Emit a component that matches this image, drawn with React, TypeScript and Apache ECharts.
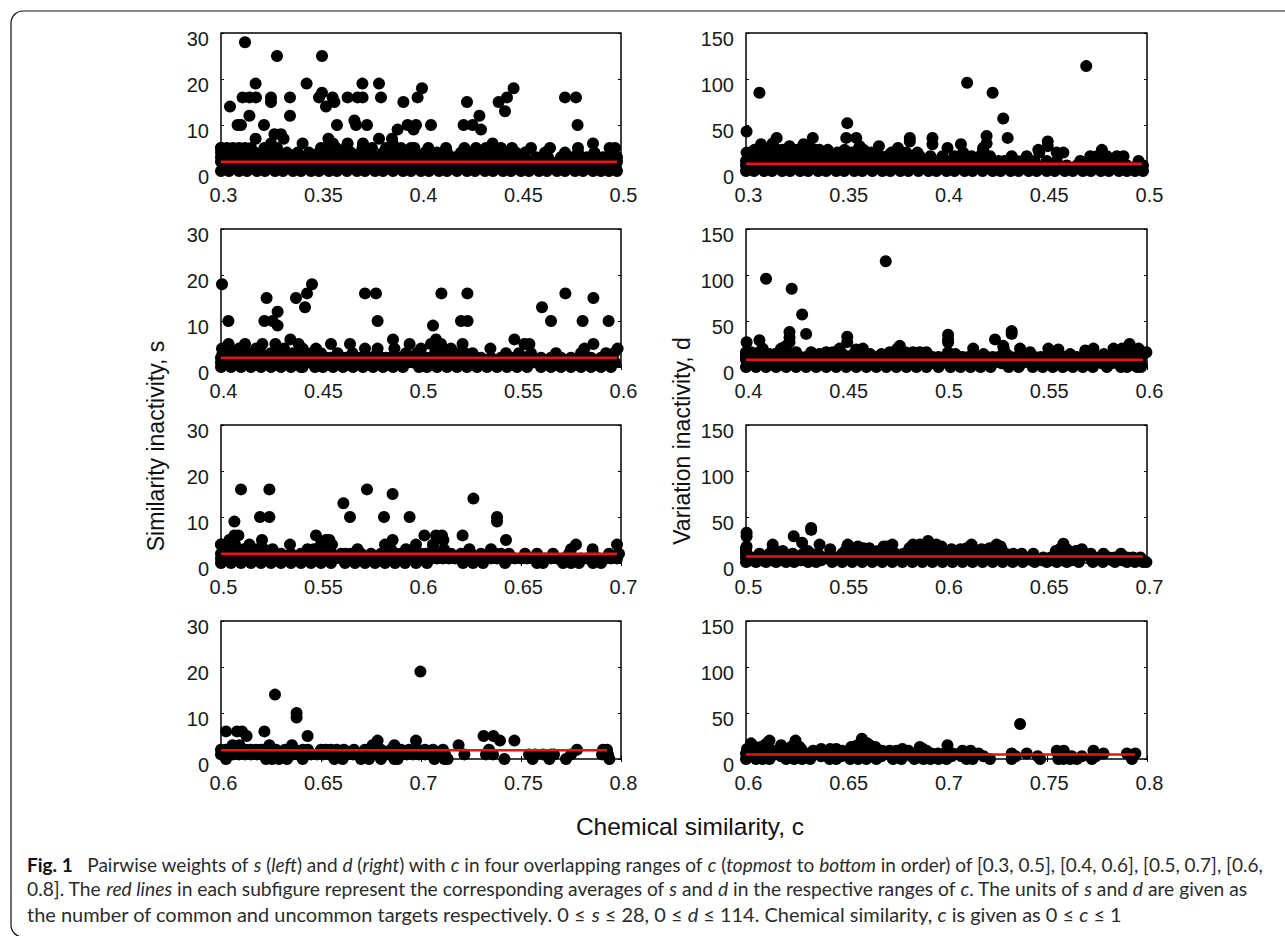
import React, { useEffect, useRef } from "react";
import * as echarts from "echarts";

type Row = [number, number[]];

// Similarity inactivity s, c in [0.3, 0.5]
const s1: Row[] = [
  [28, [0.312]],
  [25, [0.328, 0.3505]],
  [19, [0.3173, 0.3428, 0.3707, 0.379]],
  [18, [0.4005, 0.4463]],
  [17, [0.3505]],
  [16, [0.3108, 0.3142, 0.3175, 0.325, 0.3345, 0.349, 0.3558, 0.3633, 0.3683, 0.3708, 0.38, 0.3983, 0.443, 0.472, 0.4775]],
  [15, [0.325, 0.3567, 0.3912, 0.423, 0.4388]],
  [14, [0.3045, 0.3525]],
  [13, [0.442]],
  [12, [0.3142, 0.3345, 0.4292]],
  [11, [0.3667]],
  [10, [0.3083, 0.31, 0.3215, 0.358, 0.3675, 0.373, 0.3933, 0.3975, 0.405, 0.4213, 0.4258, 0.4783]],
  [9, [0.3883, 0.3963, 0.43]],
  [8, [0.3267, 0.33]],
  [7, [0.3173, 0.3313, 0.3537, 0.379, 0.3855]],
  [6, [0.3408, 0.325, 0.3633, 0.356, 0.371, 0.3858, 0.4358, 0.486]],
  [5, [0.3, 0.303, 0.306, 0.309, 0.312, 0.3, 0.315, 0.3217, 0.3233, 0.328, 0.35, 0.3525, 0.3575, 0.3625, 0.3708, 0.3755, 0.3825, 0.39, 0.395, 0.3967, 0.4037, 0.4125, 0.4217, 0.4275, 0.4325, 0.44, 0.4455, 0.455, 0.4645, 0.4785, 0.4943, 0.497]],
  [4, [0.3, 0.304, 0.308, 0.312, 0.317, 0.323, 0.328, 0.333, 0.3383, 0.344, 0.349, 0.354, 0.359, 0.365, 0.37, 0.375, 0.381, 0.387, 0.392, 0.397, 0.402, 0.408, 0.413, 0.42, 0.426, 0.431, 0.437, 0.443, 0.4475, 0.452, 0.462, 0.472, 0.4785, 0.4867, 0.495]],
  [3, [0.3, 0.303, 0.306, 0.309, 0.312, 0.315, 0.318, 0.321, 0.324, 0.327, 0.33, 0.333, 0.336, 0.339, 0.342, 0.345, 0.348, 0.351, 0.354, 0.357, 0.36, 0.363, 0.366, 0.369, 0.372, 0.375, 0.378, 0.381, 0.384, 0.387, 0.39, 0.393, 0.396, 0.399, 0.402, 0.405, 0.408, 0.411, 0.414, 0.417, 0.42, 0.423, 0.426, 0.429, 0.432, 0.435, 0.438, 0.441, 0.444, 0.447, 0.45, 0.4575, 0.4635, 0.47, 0.476, 0.483, 0.491, 0.498]],
  [2, [0.3, 0.305, 0.31, 0.315, 0.32, 0.325, 0.33, 0.335, 0.34, 0.345, 0.35, 0.355, 0.36, 0.365, 0.37, 0.375, 0.38, 0.385, 0.39, 0.395, 0.4, 0.405, 0.41, 0.415, 0.42, 0.425, 0.43, 0.435, 0.44, 0.445, 0.45, 0.455, 0.46, 0.465, 0.47, 0.475, 0.48, 0.485, 0.49, 0.495, 0.498]],
  [1, [0.3025, 0.3075, 0.3125, 0.3175, 0.3225, 0.3275, 0.3325, 0.3375, 0.3425, 0.3475, 0.3525, 0.3575, 0.3625, 0.3675, 0.3725, 0.3775, 0.3825, 0.3875, 0.3925, 0.3975, 0.4025, 0.4075, 0.4125, 0.4175, 0.4225, 0.4275, 0.4325, 0.4375, 0.4425, 0.4475, 0.4525, 0.4575, 0.4625, 0.4675, 0.4725, 0.4775, 0.4825, 0.4875, 0.4925, 0.497]],
  [0, [0.3, 0.304, 0.309, 0.313, 0.318, 0.322, 0.327, 0.331, 0.336, 0.34, 0.345, 0.349, 0.354, 0.358, 0.363, 0.368, 0.372, 0.377, 0.381, 0.386, 0.391, 0.395, 0.4, 0.404, 0.409, 0.413, 0.418, 0.423, 0.427, 0.432, 0.436, 0.441, 0.445, 0.45, 0.454, 0.459, 0.463, 0.468, 0.472, 0.477, 0.481, 0.486, 0.49, 0.494, 0.498]],
];

// Similarity inactivity s, c in [0.4, 0.6]
const s2: Row[] = [
  [18, [0.4005, 0.4455]],
  [16, [0.443, 0.472, 0.4775, 0.5102, 0.5232, 0.5722]],
  [15, [0.4228, 0.4375, 0.5862]],
  [13, [0.442, 0.5605]],
  [12, [0.4283]],
  [10, [0.4037, 0.4217, 0.4258, 0.4783, 0.52, 0.5233, 0.565, 0.5808, 0.5938]],
  [9, [0.4283, 0.506]],
  [6, [0.4347, 0.486, 0.5075, 0.5467]],
  [5, [0.4038, 0.412, 0.4207, 0.4272, 0.4388, 0.455, 0.4645, 0.4943, 0.505, 0.51, 0.5208, 0.5517, 0.5542, 0.5862]],
  [4, [0.4005, 0.409, 0.4175, 0.4408, 0.4475, 0.472, 0.4783, 0.4867, 0.5, 0.515, 0.5347, 0.5817, 0.5983, 0.4315, 0.5085]],
  [3, [0.4008, 0.406, 0.414, 0.42, 0.43, 0.436, 0.445, 0.45, 0.4583, 0.4658, 0.478, 0.4925, 0.498, 0.507, 0.5125, 0.5258, 0.5425, 0.549, 0.555, 0.5675, 0.58, 0.5925, 0.5965, 0.4115, 0.425, 0.441, 0.5175, 0.522]],
  [2, [0.4, 0.4025, 0.405, 0.4075, 0.41, 0.4125, 0.415, 0.4175, 0.42, 0.4225, 0.425, 0.4275, 0.43, 0.4325, 0.435, 0.4375, 0.44, 0.4425, 0.445, 0.4475, 0.45, 0.4525, 0.455, 0.4575, 0.46, 0.4625, 0.465, 0.4675, 0.47, 0.4725, 0.475, 0.4775, 0.48, 0.4825, 0.485, 0.49, 0.495, 0.4975, 0.5, 0.5025, 0.505, 0.5075, 0.51, 0.5125, 0.515, 0.5175, 0.52, 0.5225, 0.525, 0.53, 0.535, 0.54, 0.545, 0.5475, 0.55, 0.5525, 0.555, 0.56, 0.565, 0.57, 0.575, 0.58, 0.585, 0.59, 0.595]],
  [1, [0.4, 0.403, 0.406, 0.409, 0.412, 0.415, 0.418, 0.421, 0.424, 0.427, 0.43, 0.433, 0.436, 0.439, 0.442, 0.445, 0.448, 0.451, 0.454, 0.457, 0.46, 0.463, 0.466, 0.469, 0.472, 0.475, 0.478, 0.481, 0.484, 0.487, 0.49, 0.493, 0.496, 0.499, 0.502, 0.505, 0.508, 0.511, 0.514, 0.517, 0.52, 0.523, 0.526, 0.529, 0.532, 0.535, 0.538, 0.541, 0.544, 0.547, 0.55, 0.553, 0.556, 0.559, 0.562, 0.565, 0.568, 0.571, 0.574, 0.577, 0.58, 0.583, 0.586, 0.589, 0.592, 0.595, 0.597]],
  [0, [0.4, 0.405, 0.41, 0.415, 0.42, 0.425, 0.43, 0.435, 0.44, 0.4408, 0.447, 0.451, 0.456, 0.461, 0.466, 0.471, 0.476, 0.481, 0.486, 0.491, 0.499, 0.503, 0.508, 0.513, 0.518, 0.523, 0.528, 0.533, 0.538, 0.543, 0.548, 0.553, 0.56, 0.565, 0.57, 0.575, 0.58, 0.585, 0.59, 0.595]],
];

// Similarity inactivity s, c in [0.5, 0.7]
const s3: Row[] = [
  [16, [0.51, 0.5242, 0.573]],
  [15, [0.5858]],
  [14, [0.6262]],
  [13, [0.5612]],
  [10, [0.5195, 0.5242, 0.5645, 0.5815, 0.5943, 0.638]],
  [9, [0.5067, 0.638]],
  [6, [0.5067, 0.5087, 0.5475, 0.6017, 0.6075, 0.6105, 0.6208]],
  [5, [0.5042, 0.5205, 0.5525, 0.5542, 0.5858, 0.6112, 0.6425]],
  [4, [0.5, 0.5, 0.507, 0.5142, 0.5345, 0.55, 0.5555, 0.582, 0.5975, 0.606, 0.6775, 0.698]],
  [3, [0.508, 0.514, 0.5258, 0.5433, 0.55, 0.5545, 0.5683, 0.585, 0.5965, 0.606, 0.6242, 0.635, 0.675, 0.6858, 0.5045, 0.5115, 0.518, 0.5215, 0.5465, 0.5925, 0.6115]],
  [2, [0.5, 0.5025, 0.505, 0.5075, 0.51, 0.5125, 0.515, 0.5175, 0.52, 0.5225, 0.525, 0.53, 0.535, 0.54, 0.545, 0.5475, 0.55, 0.5525, 0.555, 0.56, 0.5625, 0.565, 0.5675, 0.57, 0.575, 0.58, 0.5825, 0.585, 0.5875, 0.59, 0.595, 0.5975, 0.6, 0.6025, 0.605, 0.6075, 0.61, 0.6125, 0.615, 0.62, 0.6225, 0.625, 0.63, 0.635, 0.6375, 0.64, 0.644, 0.652, 0.658, 0.666, 0.674, 0.686, 0.694, 0.699]],
  [1, [0.5, 0.503, 0.506, 0.509, 0.512, 0.515, 0.518, 0.521, 0.524, 0.527, 0.53, 0.533, 0.536, 0.539, 0.542, 0.545, 0.548, 0.551, 0.554, 0.557, 0.56, 0.563, 0.566, 0.569, 0.572, 0.575, 0.578, 0.581, 0.584, 0.587, 0.59, 0.593, 0.596, 0.599, 0.602, 0.605, 0.608, 0.611, 0.614, 0.617, 0.62, 0.623, 0.626, 0.629, 0.632, 0.635, 0.638, 0.641, 0.644, 0.647, 0.65, 0.653, 0.656, 0.659, 0.662, 0.665, 0.668, 0.671, 0.674, 0.677, 0.68, 0.683, 0.686, 0.689, 0.692, 0.695, 0.698]],
  [0, [0.5, 0.505, 0.51, 0.515, 0.52, 0.525, 0.53, 0.535, 0.54, 0.545, 0.55, 0.555, 0.562, 0.567, 0.572, 0.577, 0.582, 0.587, 0.592, 0.5975, 0.603, 0.621, 0.626, 0.631, 0.642, 0.658, 0.661, 0.671, 0.675, 0.679, 0.686, 0.69]],
];

// Similarity inactivity s, c in [0.6, 0.8]
const s4: Row[] = [
  [19, [0.6997]],
  [14, [0.627]],
  [10, [0.6378]],
  [9, [0.6378]],
  [6, [0.6025, 0.608, 0.6105, 0.6217]],
  [5, [0.6128, 0.6433, 0.7313, 0.7362]],
  [4, [0.6975, 0.7395, 0.7467, 0.6783]],
  [3, [0.6058, 0.6092, 0.6242, 0.6355, 0.6758, 0.6867, 0.7188]],
  [2, [0.6, 0.6025, 0.605, 0.6075, 0.61, 0.6125, 0.615, 0.6175, 0.62, 0.622, 0.625, 0.6275, 0.632, 0.635, 0.637, 0.641, 0.6435, 0.65, 0.6525, 0.655, 0.658, 0.6615, 0.6665, 0.672, 0.6755, 0.68, 0.685, 0.69, 0.694, 0.6985, 0.702, 0.706, 0.711, 0.734, 0.778, 0.791, 0.793]],
  [1, [0.6, 0.603, 0.606, 0.609, 0.612, 0.615, 0.618, 0.621, 0.624, 0.627, 0.63, 0.633, 0.636, 0.639, 0.642, 0.645, 0.648, 0.651, 0.654, 0.657, 0.66, 0.663, 0.666, 0.669, 0.672, 0.675, 0.678, 0.681, 0.684, 0.687, 0.69, 0.693, 0.696, 0.699, 0.702, 0.705, 0.708, 0.712, 0.7217, 0.7325, 0.736, 0.754, 0.757, 0.761, 0.765, 0.7665, 0.775, 0.7905, 0.7935]],
  [0, [0.6025, 0.6225, 0.6255, 0.629, 0.633, 0.6408, 0.6567, 0.6608, 0.67, 0.674, 0.68, 0.6867, 0.6883, 0.7067, 0.7117, 0.7133, 0.7417, 0.7558, 0.7642, 0.7725, 0.7942]],
];

// Variation inactivity d, c in [0.3, 0.5]
const d1: Row[] = [
  [114, [0.4697]],
  [96, [0.4103]],
  [85, [0.3067, 0.423]],
  [57, [0.4283]],
  [52, [0.3505]],
  [43, [0.3003]],
  [38, [0.42]],
  [36, [0.3153, 0.3333, 0.35, 0.355, 0.3817, 0.393, 0.4305]],
  [32, [0.3817, 0.4505]],
  [30, [0.42, 0.3133]],
  [29, [0.3075, 0.3287, 0.4072, 0.393]],
  [27, [0.3217, 0.3663, 0.4505, 0.3317, 0.3567]],
  [25, [0.3758, 0.4005, 0.4183]],
  [23, [0.3042, 0.3408, 0.3492, 0.3558, 0.4183, 0.3092, 0.4458, 0.4775, 0.3125, 0.3158, 0.3183, 0.3255, 0.3283, 0.3345, 0.3367, 0.3587]],
  [20, [0.3003, 0.3045, 0.308, 0.3125, 0.3183, 0.324, 0.33, 0.334, 0.338, 0.3455, 0.3525, 0.3625, 0.3725, 0.38, 0.3855, 0.4083, 0.4183, 0.455, 0.4583, 0.4463]],
  [16, [0.301, 0.3045, 0.308, 0.3115, 0.315, 0.3185, 0.322, 0.325, 0.328, 0.3315, 0.335, 0.3385, 0.342, 0.3475, 0.353, 0.3565, 0.36, 0.3635, 0.367, 0.3705, 0.374, 0.378, 0.3825, 0.3867, 0.392, 0.398, 0.404, 0.4125, 0.4167, 0.4217, 0.4325, 0.44, 0.4717, 0.475, 0.48, 0.485, 0.4883]],
  [11, [0.3, 0.303, 0.306, 0.309, 0.312, 0.315, 0.318, 0.321, 0.324, 0.327, 0.33, 0.333, 0.336, 0.339, 0.342, 0.345, 0.348, 0.351, 0.354, 0.357, 0.36, 0.363, 0.366, 0.369, 0.372, 0.375, 0.378, 0.381, 0.384, 0.387, 0.39, 0.393, 0.396, 0.399, 0.402, 0.405, 0.408, 0.411, 0.414, 0.417, 0.42, 0.423, 0.426, 0.429, 0.432, 0.435, 0.438, 0.441, 0.444, 0.45, 0.455, 0.4667, 0.4717, 0.477, 0.484, 0.4958]],
  [6, [0.3, 0.305, 0.31, 0.315, 0.32, 0.325, 0.33, 0.335, 0.34, 0.345, 0.35, 0.355, 0.36, 0.365, 0.37, 0.375, 0.38, 0.385, 0.39, 0.395, 0.4, 0.405, 0.41, 0.415, 0.42, 0.425, 0.43, 0.435, 0.44, 0.445, 0.45, 0.455, 0.46, 0.465, 0.47, 0.475, 0.48, 0.485, 0.49, 0.495, 0.498]],
  [3, [0.3025, 0.3075, 0.3125, 0.3175, 0.3225, 0.3275, 0.3325, 0.3375, 0.3425, 0.3475, 0.3525, 0.3575, 0.3625, 0.3675, 0.3725, 0.3775, 0.3825, 0.3875, 0.3925, 0.3975, 0.4025, 0.4075, 0.4125, 0.4175, 0.4225, 0.4275, 0.4325, 0.4375, 0.4425, 0.4475, 0.4525, 0.4575, 0.4625, 0.4675, 0.4725, 0.4775, 0.4825, 0.4875, 0.4925, 0.497]],
  [0, [0.3, 0.304, 0.309, 0.313, 0.318, 0.322, 0.327, 0.331, 0.336, 0.34, 0.345, 0.349, 0.354, 0.358, 0.363, 0.368, 0.372, 0.377, 0.381, 0.386, 0.391, 0.395, 0.4, 0.404, 0.409, 0.413, 0.418, 0.423, 0.427, 0.432, 0.436, 0.441, 0.445, 0.45, 0.454, 0.459, 0.463, 0.468, 0.472, 0.477, 0.481, 0.486, 0.49, 0.494, 0.498]],
];

// Variation inactivity d, c in [0.4, 0.6]
const d2: Row[] = [
  [115, [0.4697]],
  [96, [0.41]],
  [85, [0.4228]],
  [57, [0.428]],
  [39, [0.5325]],
  [38, [0.4217]],
  [36, [0.43, 0.5325]],
  [35, [0.5008]],
  [33, [0.4505]],
  [32, [0.4217]],
  [30, [0.5008, 0.5242]],
  [29, [0.4067]],
  [27, [0.4003, 0.4217, 0.4505, 0.5008]],
  [25, [0.5913]],
  [23, [0.42, 0.4767, 0.5283]],
  [20, [0.4083, 0.4467, 0.4583, 0.5133, 0.5367, 0.5508, 0.5733, 0.5833, 0.5875, 0.5958, 0.4175, 0.4755, 0.5285]],
  [19, [0.455, 0.5558]],
  [18, [0.5692, 0.4767]],
  [16, [0.4, 0.4025, 0.4167, 0.42, 0.425, 0.4325, 0.44, 0.4433, 0.4717, 0.4755, 0.4795, 0.4833, 0.4867, 0.49, 0.5008, 0.5417, 0.5975, 0.5997, 0.4065, 0.5845, 0.589, 0.5935]],
  [14, [0.4, 0.405, 0.4117, 0.4233, 0.4483, 0.462, 0.5185, 0.5508, 0.5617, 0.53, 0.4145, 0.4185, 0.4365, 0.4535, 0.4675, 0.5045, 0.5535, 0.5695, 0.5735, 0.5785, 0.5865]],
  [11, [0.4, 0.403, 0.406, 0.409, 0.412, 0.415, 0.418, 0.421, 0.424, 0.427, 0.43, 0.433, 0.436, 0.439, 0.442, 0.445, 0.448, 0.451, 0.454, 0.457, 0.46, 0.463, 0.466, 0.469, 0.472, 0.475, 0.478, 0.481, 0.484, 0.487, 0.49, 0.493, 0.496, 0.499, 0.502, 0.505, 0.508, 0.511, 0.514, 0.517, 0.52, 0.523, 0.526, 0.529, 0.532, 0.535, 0.538, 0.541, 0.544, 0.547, 0.55, 0.553, 0.556, 0.559, 0.562, 0.565, 0.568, 0.571, 0.574, 0.577, 0.58, 0.583, 0.586, 0.589, 0.592, 0.595, 0.597]],
  [8, [0.4, 0.405, 0.41, 0.415, 0.42, 0.425, 0.43, 0.435, 0.44, 0.445, 0.45, 0.455, 0.46, 0.465, 0.47, 0.475, 0.48, 0.485, 0.49, 0.495, 0.5, 0.505, 0.51, 0.515, 0.52, 0.525, 0.53, 0.535, 0.54, 0.545, 0.55, 0.555, 0.56, 0.565, 0.57, 0.575, 0.58, 0.585, 0.59, 0.595]],
  [4, [0.4025, 0.4075, 0.4125, 0.4175, 0.4225, 0.4275, 0.4325, 0.4375, 0.4425, 0.4475, 0.4525, 0.4575, 0.4625, 0.4675, 0.4725, 0.4775, 0.4825, 0.4875, 0.4925, 0.4975, 0.5025, 0.5075, 0.5125, 0.5175, 0.5225, 0.5275, 0.5325, 0.5375, 0.5425, 0.5475, 0.5525, 0.5575, 0.5625, 0.5675, 0.5725, 0.5775, 0.5825, 0.5875, 0.5925, 0.597]],
  [0, [0.4, 0.405, 0.41, 0.415, 0.42, 0.425, 0.43, 0.435, 0.44, 0.445, 0.45, 0.455, 0.46, 0.465, 0.47, 0.475, 0.48, 0.485, 0.49, 0.496, 0.502, 0.507, 0.512, 0.517, 0.522, 0.531, 0.536, 0.543, 0.548, 0.553, 0.558, 0.563, 0.568, 0.573, 0.58, 0.587, 0.59, 0.595, 0.597]],
];

// Variation inactivity d, c in [0.5, 0.7]
const d3: Row[] = [
  [38, [0.5325]],
  [36, [0.5325]],
  [33, [0.5003]],
  [29, [0.5238, 0.5003]],
  [24, [0.5908]],
  [22, [0.528]],
  [21, [0.6583]],
  [20, [0.5133, 0.5367, 0.5508, 0.573, 0.5833, 0.5867, 0.595, 0.6125, 0.625]],
  [18, [0.5558, 0.5687, 0.5003, 0.5505, 0.5705, 0.591, 0.5975, 0.627]],
  [16, [0.61, 0.6583, 0.5, 0.5135, 0.5525, 0.5585, 0.5615, 0.5815, 0.585, 0.589, 0.5935, 0.6215]],
  [15, [0.542, 0.6025, 0.6175, 0.5592, 0.6675, 0.607, 0.6275, 0.6565, 0.66]],
  [13, [0.5658, 0.5183, 0.5, 0.5308, 0.6645, 0.605, 0.5495, 0.5725, 0.5885, 0.5985, 0.623, 0.6545]],
  [10, [0.5117, 0.5067, 0.5233, 0.536, 0.548, 0.557, 0.5745, 0.581, 0.591, 0.6, 0.6333, 0.6375, 0.6433, 0.6783, 0.6633, 0.687, 0.625, 0.5, 0.5155, 0.5195, 0.5285, 0.5325, 0.5525, 0.562, 0.5665, 0.5705, 0.5785, 0.5865, 0.595, 0.605, 0.6095, 0.6145, 0.62, 0.6295, 0.672, 0.6595, 0.655]],
  [6, [0.5, 0.503, 0.506, 0.509, 0.512, 0.515, 0.518, 0.521, 0.524, 0.527, 0.53, 0.533, 0.536, 0.539, 0.542, 0.545, 0.548, 0.551, 0.554, 0.557, 0.56, 0.563, 0.566, 0.569, 0.572, 0.575, 0.578, 0.581, 0.584, 0.587, 0.59, 0.593, 0.596, 0.599, 0.602, 0.605, 0.608, 0.611, 0.614, 0.617, 0.62, 0.623, 0.626, 0.629, 0.632, 0.635, 0.638, 0.641, 0.644, 0.6483, 0.652, 0.655, 0.658, 0.661, 0.664, 0.667, 0.672, 0.676, 0.678, 0.681, 0.684, 0.687, 0.69, 0.693, 0.6967]],
  [3, [0.5025, 0.5075, 0.5125, 0.5175, 0.5225, 0.5275, 0.5325, 0.5375, 0.5425, 0.5475, 0.5525, 0.5575, 0.5625, 0.5675, 0.5725, 0.5775, 0.5825, 0.5875, 0.5925, 0.5975, 0.6025, 0.6075, 0.6125, 0.6175, 0.6225, 0.6275, 0.6325, 0.6375, 0.6425, 0.6475, 0.6525, 0.6575, 0.6625, 0.6655, 0.6725, 0.6775, 0.6825, 0.6875, 0.6925, 0.6975]],
  [1, [0.5, 0.505, 0.51, 0.515, 0.52, 0.524, 0.531, 0.535, 0.543, 0.548, 0.553, 0.558, 0.563, 0.568, 0.573, 0.578, 0.583, 0.588, 0.593, 0.598, 0.603, 0.608, 0.613, 0.618, 0.623, 0.628, 0.633, 0.638, 0.644, 0.65, 0.655, 0.66, 0.666, 0.673, 0.678, 0.684, 0.69, 0.694, 0.698, 0.6997]],
];

// Variation inactivity d, c in [0.6, 0.8]
const d4: Row[] = [
  [38, [0.7367]],
  [22, [0.6578]],
  [20, [0.6117, 0.6247]],
  [17, [0.6578, 0.6025, 0.6605, 0.6105, 0.6245]],
  [15, [0.6025, 0.6092, 0.6175, 0.6555, 0.6617, 0.7005, 0.6247]],
  [13, [0.6867, 0.6025, 0.6267, 0.6045, 0.6075, 0.6225, 0.6525, 0.6635, 0.6645]],
  [11, [0.6375, 0.678, 0.6225, 0.6075, 0.6533, 0.6575, 0.6883, 0.6005, 0.6045, 0.6115, 0.6195, 0.6275, 0.642, 0.645, 0.662, 0.665]],
  [9, [0.6433, 0.708, 0.7733, 0.6717, 0.6065, 0.6145, 0.6235, 0.6265, 0.6335, 0.637, 0.6405, 0.648, 0.654, 0.66, 0.668, 0.675, 0.681, 0.69, 0.712, 0.755, 0.7585]],
  [6, [0.6, 0.603, 0.606, 0.609, 0.612, 0.615, 0.618, 0.621, 0.624, 0.627, 0.63, 0.633, 0.636, 0.639, 0.642, 0.645, 0.6483, 0.652, 0.655, 0.657, 0.66, 0.662, 0.665, 0.668, 0.6717, 0.676, 0.68, 0.6833, 0.686, 0.689, 0.6925, 0.6958, 0.699, 0.703, 0.7065, 0.7125, 0.716, 0.7325, 0.74, 0.7583, 0.7555, 0.7783, 0.7942, 0.79]],
  [3, [0.6025, 0.6075, 0.6125, 0.6175, 0.6225, 0.6275, 0.6325, 0.6375, 0.6425, 0.6475, 0.6525, 0.6575, 0.6625, 0.6675, 0.6725, 0.6775, 0.6825, 0.6875, 0.6925, 0.6975, 0.7025, 0.7075, 0.7125, 0.7185, 0.7345, 0.7455, 0.7565, 0.7625, 0.7675, 0.7745, 0.7925]],
  [0, [0.6, 0.605, 0.6083, 0.6117, 0.62, 0.624, 0.628, 0.632, 0.6417, 0.645, 0.652, 0.656, 0.66, 0.665, 0.6733, 0.6775, 0.684, 0.6885, 0.692, 0.696, 0.7, 0.71, 0.713, 0.7217, 0.7325, 0.7467, 0.7558, 0.7583, 0.7617, 0.765, 0.7725, 0.7925]],
];

const meansS = [2, 2, 2, 1.9];
const meansD = [8, 8, 7, 5];
const lineEndS = [0.498, 0.598, 0.698, 0.793];
const lineEndD = [0.4975, 0.598, 0.698, 0.794];
const xMins = [0.3, 0.4, 0.5, 0.6];
const xMaxs = [0.5, 0.6, 0.7, 0.8];
const sTicksMax = 30;
const dTicksMax = 150;
const sSets = [s1, s2, s3, s4];
const dSets = [d1, d2, d3, d4];

const rowTops = [33, 229, 425, 621];
const FONT = "Liberation Sans";

const flat = (rows: Row[]) => rows.flatMap(([y, xs]) => xs.map((x) => [x, y]));
const CAP_SIZE = 19;
const capStyle = { fontFamily: "Lato", fontSize: CAP_SIZE, fill: "#2b2b2b" };
const rich = {
  b: { fontFamily: "Lato", fontSize: CAP_SIZE, fontWeight: "bold", fill: "#111" },
  i: { fontFamily: "Lato", fontSize: CAP_SIZE, fontStyle: "italic", fill: "#2b2b2b" },
  n: { fontFamily: "Lato", fontSize: CAP_SIZE, fill: "#2b2b2b" },
};
const captionLines = [
  "{b|Fig. 1}{n|   Pairwise weights of }{i|s}{n| (}{i|left}{n|) and }{i|d}{n| (}{i|right}{n|) with }{i|c}{n| in four overlapping ranges of }{i|c}{n| (}{i|topmost}{n| to }{i|bottom}{n| in order) of [0.3, 0.5], [0.4, 0.6], [0.5, 0.7], [0.6,}",
  "{n|0.8]. The }{i|red lines}{n| in each subfigure represent the corresponding averages of }{i|s}{n| and }{i|d}{n| in the respective ranges of }{i|c}{n|. The units of }{i|s}{n| and }{i|d}{n| are given as}",
  "{n|the number of common and uncommon targets respectively. 0 ≤ }{i|s}{n| ≤ 28, 0 ≤ }{i|d}{n| ≤ 114. Chemical similarity, }{i|c}{n| is given as 0 ≤ }{i|c}{n| ≤ 1}",
];
const captionY = [864, 889, 915];
const captionScale = [1, 1.012, 1.05];

export default function App() {
  const ref = useRef<HTMLDivElement>(null);
  useEffect(() => {
    const chart = echarts.init(ref.current!, undefined, { renderer: "svg" });
    const grid: any[] = [];
    const xAxis: any[] = [];
    const yAxis: any[] = [];
    const series: any[] = [];
    const panels = [
      { left: 221, width: 400, sets: sSets, max: sTicksMax, step: 10, means: meansS, ends: lineEndS },
      { left: 746, width: 401, sets: dSets, max: dTicksMax, step: 50, means: meansD, ends: lineEndD },
    ];
    panels.forEach((p) => {
      rowTops.forEach((top, r) => {
        const g = grid.length;
        grid.push({ left: p.left, top, width: p.width, height: 138, show: true, borderColor: "#000", borderWidth: 1.5, backgroundColor: "transparent" });
        const xBase = {
          type: "value", gridIndex: g, min: xMins[r], max: xMaxs[r], interval: 0.05,
          splitLine: { show: false }, axisLine: { show: false },
          axisTick: { show: true, inside: true, length: 3, lineStyle: { color: "#000", width: 1 } },
        };
        const yBase = {
          type: "value", gridIndex: g, min: 0, max: p.max, interval: p.step,
          splitLine: { show: false }, axisLine: { show: false },
          axisTick: { show: true, inside: true, length: 3, lineStyle: { color: "#000", width: 1 } },
        };
        const xi = xAxis.length;
        xAxis.push({
          ...xBase, position: "bottom",
          axisLabel: {
            show: true, margin: 14, fontFamily: FONT, fontSize: 20, color: "#1a1a1a",
            padding: [0, 0, 0, 5], showMinLabel: true, showMaxLabel: true,
            formatter: (v: number) => String(+v.toFixed(2)),
          },
        });
        xAxis.push({ ...xBase, position: "top", axisLabel: { show: false } });
        const yi = yAxis.length;
        yAxis.push({
          ...yBase, position: "left",
          axisLabel: { show: true, margin: 12, fontFamily: FONT, fontSize: 20, color: "#1a1a1a", verticalAlign: "top", lineHeight: 11 },
        });
        yAxis.push({ ...yBase, position: "right", axisLabel: { show: false } });
        series.push({
          type: "scatter", xAxisIndex: xi, yAxisIndex: yi, clip: false, symbolSize: 12,
          itemStyle: { color: "#000", opacity: 1 }, data: flat(p.sets[r]), z: 3, silent: true,
        });
        series.push({
          type: "line", xAxisIndex: xi, yAxisIndex: yi, clip: false, showSymbol: false, symbol: "none",
          lineStyle: { color: "#ee1111", width: 2.5 }, z: 5, silent: true,
          data: [[xMins[r], p.means[r]], [p.ends[r], p.means[r]]],
        });
      });
    });
    chart.setOption({
      animation: false,
      backgroundColor: "#fff",
      grid, xAxis, yAxis, series,
      graphic: [
        { type: "rect", shape: { x: 11, y: 11, width: 1400, height: 926, r: 12 }, style: { fill: "none", stroke: "#111", lineWidth: 1.2 }, z: 0 },
        { type: "text", x: 690, y: 826, style: { text: "Chemical similarity, c", fontFamily: FONT, fontSize: 24.5, fill: "#111", align: "center", verticalAlign: "middle" } },
        { type: "text", x: 156, y: 446, rotation: Math.PI / 2, style: { text: "Similarity inactivity, s", fontFamily: FONT, fontSize: 23, fill: "#111", align: "center", verticalAlign: "middle" } },
        { type: "text", x: 682, y: 441, rotation: Math.PI / 2, style: { text: "Variation inactivity, d", fontFamily: FONT, fontSize: 23, fill: "#111", align: "center", verticalAlign: "middle" } },
        ...captionLines.map((t, i) => ({
          type: "text", x: 27, y: captionY[i], scaleX: captionScale[i],
          style: { ...capStyle, text: t, rich, align: "left", verticalAlign: "middle" },
        })),
      ],
    });
    return () => chart.dispose();
  }, []);
  return <div ref={ref} style={{ position: "fixed", left: 0, top: 0, width: 1285, height: 936 }} />;
}
